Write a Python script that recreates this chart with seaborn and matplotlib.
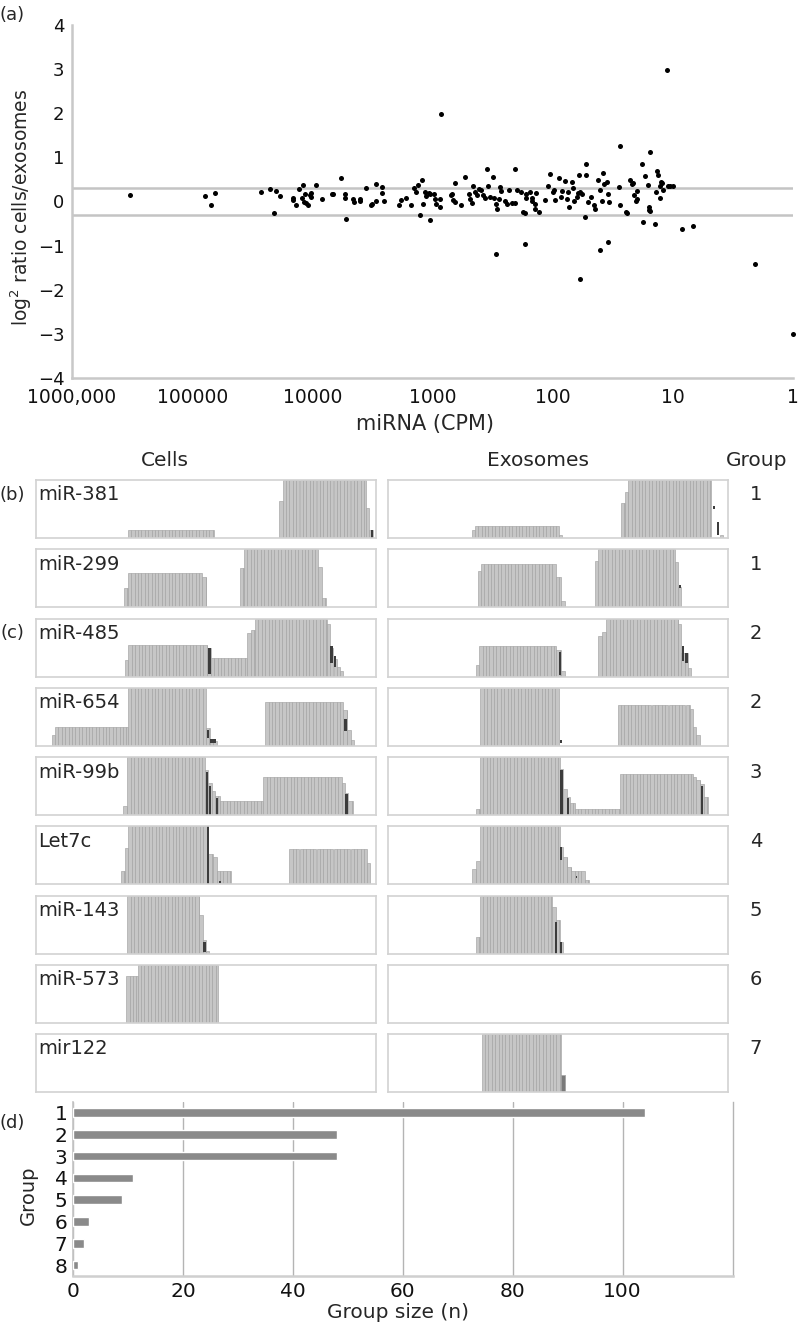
import numpy as np
import pandas as pd
import matplotlib
matplotlib.use("Agg")
import matplotlib.pyplot as plt
import seaborn as sns
from matplotlib.ticker import NullLocator

# ------------------------------------------------------------------ data
# (a) scatter: log10(CPM) and log2 ratio cells/exosomes
log10_cpm = [
    5.52, 4.89, 4.81, 4.84, 4.43, 4.35, 4.30, 4.27, 4.32, 4.16,
    4.16, 4.14, 4.11, 4.08, 4.09, 4.07, 4.05, 4.06, 4.04, 4.02,
    4.01, 4.01, 3.97, 3.92, 3.84, 3.83, 3.76, 3.73, 3.73, 3.72,
    3.66, 3.65, 3.60, 3.60, 3.55, 3.51, 3.50, 3.47, 3.47, 3.42,
    3.42, 3.40, 3.28,
    3.26, 3.22, 3.18, 3.15, 3.14, 3.12, 3.10, 3.09, 3.08, 3.06,
    3.05, 3.03, 3.02, 3.02, 2.99, 2.98, 2.97, 2.94, 2.94, 2.85,
    2.84, 2.83, 2.81, 2.81, 2.76, 2.73, 2.70, 2.69, 2.67, 2.66,
    2.65, 2.63, 2.61, 2.60, 2.58, 2.56, 2.55, 2.54, 2.52, 2.50,
    2.49, 2.47, 2.46, 2.45, 2.44, 2.43, 2.40, 2.38, 2.36, 2.34,
    2.31, 2.31, 2.30, 2.26, 2.25, 2.23, 2.22, 2.22, 2.19, 2.17,
    2.17, 2.15, 2.15, 2.14, 2.11, 2.06, 2.04, 2.02, 2.00, 1.99,
    1.98, 1.95, 1.93, 1.92, 1.90, 1.88, 1.87, 1.86, 1.84, 1.83,
    1.82, 1.80, 1.79, 1.78, 1.77, 1.76, 1.73, 1.72, 1.72, 1.71,
    1.68, 1.66, 1.65, 1.62, 1.61, 1.59, 1.58, 1.57, 1.55, 1.54,
    1.53, 1.45, 1.44, 1.39, 1.38, 1.36, 1.34, 1.33, 1.32, 1.30,
    1.31, 1.30, 1.26, 1.25, 1.23, 1.21, 1.20, 1.20, 1.19, 1.15,
    1.14, 1.13, 1.12, 1.11, 1.11, 1.10, 1.09, 1.08, 1.04, 1.02,
    1.00,
    2.93, 1.05, 1.44, 1.19, 2.47, 2.23, 1.77, 1.61, 1.54, 0.92,
    0.83, 0.32, 0.00,
]
log2_ratio = [
    0.15, 0.13, 0.20, -0.08, 0.22, 0.29, 0.23, 0.12, -0.26, 0.09,
    0.04, -0.08, 0.28, 0.38, 0.09, -0.02, -0.03, 0.18, -0.07, 0.14,
    0.10, 0.19, 0.38, 0.05, 0.17, 0.17, 0.53, 0.18, 0.07, -0.39,
    0.05, 0.00, 0.06, 0.02, 0.30, -0.08, -0.06, 0.39, 0.02, 0.32,
    0.19, 0.02, -0.08,
    0.04, 0.08, -0.09, 0.31, 0.21, 0.38, -0.31, 0.49, -0.05, 0.21,
    0.12, 0.19, -0.42, 0.16, 0.17, 0.05, -0.05, 0.05, -0.13, 0.14,
    0.17, 0.04, -0.02, 0.42, -0.09, 0.55, 0.17, 0.06, -0.04, 0.34,
    0.21, 0.14, 0.29, 0.25, 0.14, 0.08, 0.73, 0.35, 0.10, 0.55,
    0.08, -0.05, -0.17, 0.05, 0.33, 0.23, 0.02, -0.05, 0.25, -0.04,
    -0.04, 0.73, 0.27, 0.21, -0.23, -0.26, 0.17, 0.08, 0.21, 0.08,
    0.02, -0.05, -0.17, 0.19, -0.23, 0.04, 0.36, 0.63, 0.21, 0.25,
    0.04, 0.53, 0.11, 0.23, 0.47, 0.06, 0.21, -0.13, 0.44, 0.30,
    0.02, 0.10, 0.19, 0.61, 0.21, 0.17, -0.34, 0.61, 0.84, -0.02,
    0.11, -0.07, -0.17, 0.48, 0.25, 0.02, 0.65, 0.39, 0.44, 0.17,
    0.00, 0.33, -0.08, -0.24, -0.26, 0.49, 0.40, 0.42, 0.14, 0.23,
    0.02, 0.05, 0.84, -0.46, 0.58, 0.37, -0.13, -0.19, -0.22, -0.52,
    0.21, 0.70, 0.61, 0.08, 0.36, 0.44, 0.42, 0.25, 0.36, 0.36,
    0.36,
    1.99, 2.99, 1.26, 1.13, -1.20, -0.96, -1.76, -1.09, -0.91, -0.62,
    -0.55, -1.41, -3.00,
]
threshold = [0.3, -0.3]
x_tick_values = [1e6, 1e5, 1e4, 1e3, 1e2, 1e1, 1]
x_tick_labels = ["1000,000", "100000", "10000", "1000", "100", "10", "1"]
y_tick_values = [-4, -3, -2, -1, 0, 1, 2, 3, 4]

# (b)/(c) read-coverage profiles: (start, end, relative height) in position units (0-100)
mirnas = ["miR-381", "miR-299", "miR-485", "miR-654", "miR-99b",
          "Let7c", "miR-143", "miR-573", "mir122"]
mirna_groups = ["1", "1", "2", "2", "3", "4", "5", "6", "7"]

cells_cov = [
    [(27, 52.3, 0.145), (71.5, 72.5, 0.64), (72.5, 97, 1.0), (97, 98, 0.52), (98, 99, 0.13)],
    [(25.9, 27, 0.33), (27, 48.9, 0.59), (48.9, 50.1, 0.53), (59.9, 61.1, 0.68),
     (61.1, 83, 1.0), (83, 84, 0.7), (84, 85.2, 0.16)],
    [(26.1, 27.2, 0.28), (27.2, 50.4, 0.55), (50.4, 51.4, 0.5), (51.4, 62.2, 0.32),
     (62.2, 63.1, 0.75), (63.1, 64.4, 0.8), (64.4, 85.5, 1.0), (85.5, 86.5, 0.9),
     (86.5, 87.5, 0.5), (87.5, 88.4, 0.3), (88.4, 89.4, 0.17), (89.4, 90.2, 0.09)],
    [(4.6, 5.6, 0.19), (5.6, 27, 0.32), (27, 50, 1.0), (50, 51.2, 0.3), (51.2, 53.1, 0.08),
     (67.4, 90.4, 0.76), (90.4, 91.6, 0.62), (91.6, 92.5, 0.28), (92.5, 93.5, 0.1)],
    [(25.7, 26.9, 0.16), (26.9, 49.7, 1.0), (49.7, 50.7, 0.77), (50.7, 51.7, 0.55),
     (51.7, 52.6, 0.42), (52.6, 54.1, 0.33), (54.1, 66.9, 0.25), (66.9, 89.9, 0.65),
     (89.9, 90.9, 0.56), (90.9, 91.9, 0.38), (91.9, 93.1, 0.25)],
    [(24.9, 26.1, 0.22), (26.1, 27.2, 0.62), (27.2, 50.7, 1.0), (50.7, 52.2, 0.53),
     (52.2, 53.1, 0.47), (53.1, 57.3, 0.22), (74.5, 97.3, 0.6), (97.3, 98.2, 0.37)],
    [(26.9, 48, 1.0), (48, 49, 0.67), (49, 50, 0.24), (50, 51, 0.05)],
    [(26.5, 29.9, 0.8), (29.9, 53.4, 1.0)],
    [],
]
cells_dark = [
    [(98.4, 99.1, 0.0, 0.13)],
    [],
    [(50.5, 51.4, 0.05, 0.49), (86.6, 87.4, 0.23, 0.52), (87.5, 88.3, 0.17, 0.35)],
    [(50.2, 51.0, 0.13, 0.28), (51.3, 53.0, 0.05, 0.12), (90.7, 91.5, 0.25, 0.46)],
    [(50.0, 50.7, 0.0, 0.75), (51.0, 51.6, 0.0, 0.5), (52.8, 53.5, 0.0, 0.3), (91.0, 91.8, 0.0, 0.36)],
    [(50.4, 50.9, 0.0, 1.0), (53.9, 54.4, 0.02, 0.05)],
    [(49.2, 49.9, 0.03, 0.2)],
    [],
    [],
]
exo_cov = [
    [(24.7, 25.5, 0.13), (25.5, 50.2, 0.21), (50.2, 51.2, 0.05), (68.5, 69.6, 0.6),
     (69.6, 70.7, 0.8), (70.7, 95.1, 1.0), (97.6, 98.6, 0.05)],
    [(26.5, 27.3, 0.62), (27.3, 49.3, 0.75), (49.3, 51, 0.53), (51, 52, 0.1),
     (60.8, 61.8, 0.8), (61.8, 84.3, 1.0), (84.3, 85.3, 0.78), (85.3, 86.3, 0.35)],
    [(25.8, 26.8, 0.2), (26.8, 49.5, 0.53), (49.5, 51, 0.45), (51, 52, 0.1),
     (61.8, 63, 0.7), (63, 64.2, 0.76), (64.2, 85.3, 1.0), (85.3, 86.3, 0.9),
     (86.3, 88.2, 0.4), (88.2, 89.2, 0.15)],
    [(27.2, 50.2, 1.0), (67.5, 88.7, 0.7), (88.7, 89.7, 0.63), (89.7, 90.7, 0.33), (90.7, 91.7, 0.19)],
    [(25.8, 27, 0.1), (27, 50.5, 1.0), (50.5, 51.5, 0.8), (51.5, 52.5, 0.44),
     (52.5, 53.4, 0.31), (53.4, 54.9, 0.21), (54.9, 68.1, 0.11), (68.1, 89.7, 0.7),
     (89.7, 90.7, 0.66), (90.7, 91.9, 0.6), (91.9, 92.8, 0.53), (92.8, 94.1, 0.31)],
    [(24.8, 26, 0.27), (26, 27, 0.4), (27, 50.5, 1.0), (50.5, 51.5, 0.65),
     (51.5, 52.7, 0.47), (52.7, 53.9, 0.3), (53.9, 57.9, 0.23), (57.9, 59.1, 0.08)],
    [(25.8, 27, 0.29), (27, 48.3, 1.0), (48.3, 49.3, 0.81), (49.3, 50.5, 0.58), (50.5, 51.5, 0.2)],
    [],
    [(27.5, 51, 1.0), (51, 52.2, 0.3)],
]
exo_dark = [
    [(95.6, 96.3, 0.5, 0.55), (96.8, 97.4, 0.06, 0.28)],
    [(85.5, 86.1, 0.33, 0.39)],
    [(50.3, 51.0, 0.03, 0.43), (86.4, 87.2, 0.26, 0.53), (87.3, 88.1, 0.23, 0.40)],
    [(50.5, 51.2, 0.05, 0.1)],
    [(50.6, 51.4, 0.0, 0.78), (52.6, 53.3, 0.0, 0.3), (92.0, 92.7, 0.0, 0.5)],
    [(50.6, 51.3, 0.42, 0.64), (55.2, 55.7, 0.1, 0.15)],
    [(49.0, 49.8, 0.0, 0.55), (50.6, 51.3, 0.0, 0.2)],
    [],
    [],
]

# (d) group sizes
group_labels = ["1", "2", "3", "4", "5", "6", "7", "8"]
group_sizes = [104, 48, 48, 11, 9, 3, 2, 1]

# ------------------------------------------------------------------ figure
sns.set_style("white")
plt.rcParams["font.family"] = ["DejaVu Sans"]
plt.rcParams["axes.unicode_minus"] = True

W, H = 798, 1326
fig = plt.figure(figsize=(W / 100, H / 100), dpi=100)


def fx(px):
    return px / W


def fy(py):
    return 1 - py / H


SPINE = "#c8c8c8"

# ---------------- (a)
ax_a = fig.add_axes([fx(72), fy(378), (793 - 72) / W, (378 - 25) / H])
ax_a.set_xscale("log")
df_a = pd.DataFrame({"cpm": 10 ** np.array(log10_cpm), "ratio": log2_ratio})
for t in threshold:
    ax_a.axhline(t, color="#c4c4c4", lw=1.8, zorder=1)
sns.scatterplot(data=df_a, x="cpm", y="ratio", color="black", s=13, linewidth=0,
                ax=ax_a, zorder=3, clip_on=False, legend=False)
ax_a.set_xlim(1e6, 1)
ax_a.set_ylim(-4, 4)
ax_a.set_xticks(x_tick_values)
ax_a.set_xticklabels(x_tick_labels)
ax_a.xaxis.set_minor_locator(NullLocator())
ax_a.set_yticks(y_tick_values)
ax_a.set_yticklabels([str(v).replace("-", "\u2212") for v in y_tick_values])
ax_a.set_xlabel("")
ax_a.set_ylabel("")
for s in ["top", "right"]:
    ax_a.spines[s].set_visible(False)
for s in ["left", "bottom"]:
    ax_a.spines[s].set_color(SPINE)
    ax_a.spines[s].set_linewidth(1.8)
ax_a.tick_params(axis="both", which="major", direction="out", length=3, width=1.2,
                 color=SPINE, labelcolor="#111111")
ax_a.tick_params(axis="x", labelsize=13.5, pad=4)
ax_a.tick_params(axis="y", labelsize=13, pad=2.5)

fig.text(fx(12), fy(15), "(a)", fontsize=13, ha="center", va="center")
fig.text(fx(21), fy(207), r"log$^2$ ratio cells/exosomes", fontsize=13.5,
         rotation=90, ha="center", va="center")
fig.text(fx(425), fy(424), "miRNA (CPM)", fontsize=15, ha="center", va="center")

# ---------------- (b)/(c)
BAR_FACE = "#c6c6c6"
BAR_EDGE = "#a3a3a3"
DARK = "#3c3c3c"
BOX = "#d2d2d2"


def draw_cov(ax, segs, darks, last_mid=False):
    for k, (s, e, h) in enumerate(segs):
        starts = np.arange(s, e - 1e-6, 1.0)
        widths = np.minimum(1.0, e - starts)
        face = "#7a7a7a" if (last_mid and k == len(segs) - 1) else BAR_FACE
        ax.bar(starts, [h] * len(starts), width=widths, align="edge",
               color=face, edgecolor=BAR_EDGE, linewidth=0.45, zorder=2)
    for s, e, b, t in darks:
        ax.bar([s], [t - b], bottom=[b], width=e - s, align="edge",
               color=DARK, linewidth=0, zorder=3)
    ax.set_xlim(0, 100)
    ax.set_ylim(0, 1)
    ax.set_xticks([])
    ax.set_yticks([])
    for sp in ax.spines.values():
        sp.set_color(BOX)
        sp.set_linewidth(1.2)
        sp.set_zorder(4)


row_h = 58
for i, name in enumerate(mirnas):
    top = 480 + 69.25 * i
    ax_c = fig.add_axes([fx(36), fy(top + row_h), 340 / W, row_h / H])
    draw_cov(ax_c, cells_cov[i], cells_dark[i])
    ax_e = fig.add_axes([fx(388), fy(top + row_h), 340 / W, row_h / H])
    draw_cov(ax_e, exo_cov[i], exo_dark[i], last_mid=(name == "mir122"))
    fig.text(fx(38), fy(top + 15), name, fontsize=14, ha="left", va="center", zorder=10)
    fig.text(fx(756), fy(top + 15), mirna_groups[i], fontsize=14, ha="center", va="center")

fig.text(fx(165), fy(460.5), "Cells", fontsize=14.5, ha="center", va="center")
fig.text(fx(538), fy(460.5), "Exosomes", fontsize=14.5, ha="center", va="center")
fig.text(fx(757), fy(460.5), "Group", fontsize=14.5, ha="center", va="center")
fig.text(fx(12), fy(495), "(b)", fontsize=13, ha="center", va="center")
fig.text(fx(12), fy(633), "(c)", fontsize=13, ha="center", va="center")

# ---------------- (d)
ax_d = fig.add_axes([fx(73), fy(1276), (732.5 - 73) / W, (1276 - 1101.7) / H])
df_d = pd.DataFrame({"Group": group_labels, "n": group_sizes})
sns.barplot(data=df_d, x="n", y="Group", orient="h", color="#8a8a8a", saturation=1,
            width=0.39, ax=ax_d, zorder=3)
ax_d.set_xlim(0, 120)
ax_d.set_xticks([0, 20, 40, 60, 80, 100])
ax_d.xaxis.grid(True, color="#b4b4b4", lw=1.0, zorder=0)
ax_d.yaxis.grid(False)
ax_d.set_axisbelow(True)
ax_d.set_xlabel("")
ax_d.set_ylabel("")
ax_d.spines["top"].set_visible(False)
ax_d.spines["right"].set_color("#b4b4b4")
ax_d.spines["right"].set_linewidth(1.0)
ax_d.spines["left"].set_color("#c4c4c4")
ax_d.spines["left"].set_linewidth(1.2)
ax_d.spines["bottom"].set_color("#cfcfcf")
ax_d.spines["bottom"].set_linewidth(1.8)
ax_d.tick_params(axis="both", length=0, labelsize=14.5, labelcolor="#111111")
ax_d.tick_params(axis="x", pad=4)
ax_d.tick_params(axis="y", pad=4)

fig.text(fx(12), fy(1123), "(d)", fontsize=13, ha="center", va="center")
fig.text(fx(28), fy(1195), "Group", fontsize=14, rotation=90, ha="center", va="center")
fig.text(fx(398), fy(1313), "Group size (n)", fontsize=14.5, ha="center", va="center")

fig.savefig("out.png", dpi=100)
